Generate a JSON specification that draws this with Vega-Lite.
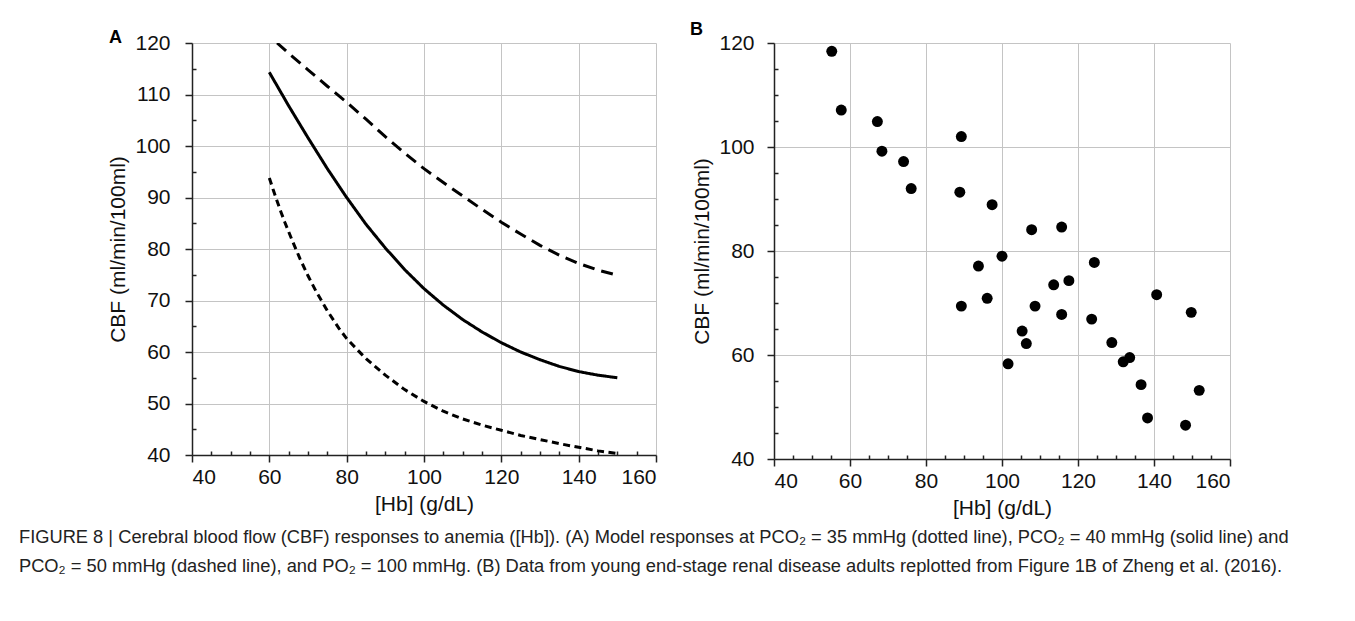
{
  "$schema": "https://vega.github.io/schema/vega-lite/v6.json",
  "autosize": {"type": "pad"},
  "padding": {"left": 18, "top": 21, "right": 5, "bottom": 5},
  "background": "white",
  "config": {
    "font": "Liberation Sans",
    "view": {"stroke": null},
    "axis": {
      "domainColor": "#222", "domainWidth": 1.5,
      "tickColor": "#222", "tickWidth": 1.5,
      "gridColor": "#c4c4c4", "gridWidth": 1,
      "labelFontSize": 21, "labelColor": "#111", "labelFont": "Liberation Sans",
      "titleFontSize": 21, "titleFontWeight": "normal", "titleColor": "#111", "titleFont": "Liberation Sans",
      "labelOverlap": false
    }
  },
  "title": {
    "text": [
      "FIGURE 8 | Cerebral blood flow (CBF) responses to anemia ([Hb]). (A) Model responses at PCO₂ = 35 mmHg (dotted line), PCO₂ = 40 mmHg (solid line) and",
      "PCO₂ = 50 mmHg (dashed line), and PO₂ = 100 mmHg. (B) Data from young end-stage renal disease adults replotted from Figure 1B of Zheng et al. (2016)."
    ],
    "orient": "bottom", "anchor": "start", "frame": "bounds",
    "fontSize": 18.3, "fontWeight": "normal", "lineHeight": 29, "offset": 11, "dx": -89, "color": "#222", "font": "Liberation Sans"
  },
  "datasets": {
    "curves": [
      {"hb": 60, "cbf": 93.8, "series": "35"},
      {"hb": 61, "cbf": 91.5, "series": "35"},
      {"hb": 62, "cbf": 89.3, "series": "35"},
      {"hb": 63, "cbf": 87.2, "series": "35"},
      {"hb": 64, "cbf": 85.2, "series": "35"},
      {"hb": 66, "cbf": 81.5, "series": "35"},
      {"hb": 68, "cbf": 78.0, "series": "35"},
      {"hb": 70, "cbf": 74.8, "series": "35"},
      {"hb": 72, "cbf": 71.9, "series": "35"},
      {"hb": 75, "cbf": 68.0, "series": "35"},
      {"hb": 78, "cbf": 64.6, "series": "35"},
      {"hb": 80, "cbf": 62.6, "series": "35"},
      {"hb": 85, "cbf": 58.7, "series": "35"},
      {"hb": 90, "cbf": 55.5, "series": "35"},
      {"hb": 95, "cbf": 52.7, "series": "35"},
      {"hb": 100, "cbf": 50.4, "series": "35"},
      {"hb": 105, "cbf": 48.5, "series": "35"},
      {"hb": 110, "cbf": 47.0, "series": "35"},
      {"hb": 115, "cbf": 45.8, "series": "35"},
      {"hb": 120, "cbf": 44.8, "series": "35"},
      {"hb": 125, "cbf": 43.8, "series": "35"},
      {"hb": 130, "cbf": 43.0, "series": "35"},
      {"hb": 135, "cbf": 42.2, "series": "35"},
      {"hb": 140, "cbf": 41.5, "series": "35"},
      {"hb": 145, "cbf": 40.8, "series": "35"},
      {"hb": 150, "cbf": 40.3, "series": "35"},
      {"hb": 60, "cbf": 114.3, "series": "40"},
      {"hb": 65, "cbf": 107.8, "series": "40"},
      {"hb": 70, "cbf": 101.6, "series": "40"},
      {"hb": 75, "cbf": 95.6, "series": "40"},
      {"hb": 80, "cbf": 90.0, "series": "40"},
      {"hb": 85, "cbf": 84.8, "series": "40"},
      {"hb": 90, "cbf": 80.2, "series": "40"},
      {"hb": 95, "cbf": 76.0, "series": "40"},
      {"hb": 100, "cbf": 72.3, "series": "40"},
      {"hb": 105, "cbf": 69.1, "series": "40"},
      {"hb": 110, "cbf": 66.3, "series": "40"},
      {"hb": 115, "cbf": 63.9, "series": "40"},
      {"hb": 120, "cbf": 61.8, "series": "40"},
      {"hb": 125, "cbf": 60.0, "series": "40"},
      {"hb": 130, "cbf": 58.5, "series": "40"},
      {"hb": 135, "cbf": 57.2, "series": "40"},
      {"hb": 140, "cbf": 56.2, "series": "40"},
      {"hb": 145, "cbf": 55.5, "series": "40"},
      {"hb": 150, "cbf": 55.0, "series": "40"},
      {"hb": 62, "cbf": 120.0, "series": "50"},
      {"hb": 65, "cbf": 118.0, "series": "50"},
      {"hb": 70, "cbf": 114.8, "series": "50"},
      {"hb": 75, "cbf": 111.6, "series": "50"},
      {"hb": 80, "cbf": 108.5, "series": "50"},
      {"hb": 85, "cbf": 105.2, "series": "50"},
      {"hb": 90, "cbf": 101.8, "series": "50"},
      {"hb": 95, "cbf": 98.6, "series": "50"},
      {"hb": 100, "cbf": 95.6, "series": "50"},
      {"hb": 105, "cbf": 92.9, "series": "50"},
      {"hb": 110, "cbf": 90.3, "series": "50"},
      {"hb": 115, "cbf": 87.7, "series": "50"},
      {"hb": 120, "cbf": 85.2, "series": "50"},
      {"hb": 125, "cbf": 82.9, "series": "50"},
      {"hb": 130, "cbf": 80.7, "series": "50"},
      {"hb": 135, "cbf": 78.8, "series": "50"},
      {"hb": 140, "cbf": 77.2, "series": "50"},
      {"hb": 145, "cbf": 75.9, "series": "50"},
      {"hb": 150, "cbf": 74.9, "series": "50"}
    ],
    "patients": [
      {"hb": 55.2, "cbf": 118.4}, {"hb": 57.7, "cbf": 107.1}, {"hb": 67.2, "cbf": 104.9},
      {"hb": 68.4, "cbf": 99.2}, {"hb": 74.1, "cbf": 97.2}, {"hb": 76.1, "cbf": 92.0},
      {"hb": 89.3, "cbf": 102.0}, {"hb": 88.9, "cbf": 91.3}, {"hb": 97.4, "cbf": 88.9},
      {"hb": 107.8, "cbf": 84.1}, {"hb": 115.7, "cbf": 84.6}, {"hb": 100.0, "cbf": 79.0},
      {"hb": 124.3, "cbf": 77.8}, {"hb": 93.8, "cbf": 77.1}, {"hb": 89.3, "cbf": 69.4},
      {"hb": 96.1, "cbf": 70.9}, {"hb": 108.7, "cbf": 69.4}, {"hb": 105.3, "cbf": 64.6},
      {"hb": 106.4, "cbf": 62.2}, {"hb": 101.6, "cbf": 58.3}, {"hb": 113.6, "cbf": 73.5},
      {"hb": 117.6, "cbf": 74.3}, {"hb": 115.7, "cbf": 67.8}, {"hb": 123.6, "cbf": 66.9},
      {"hb": 128.9, "cbf": 62.4}, {"hb": 131.9, "cbf": 58.7}, {"hb": 133.6, "cbf": 59.5},
      {"hb": 136.6, "cbf": 54.3}, {"hb": 138.3, "cbf": 47.9}, {"hb": 140.7, "cbf": 71.6},
      {"hb": 148.3, "cbf": 46.5}, {"hb": 149.8, "cbf": 68.2}, {"hb": 151.9, "cbf": 53.2}
    ]
  },
  "spacing": 33,
  "hconcat": [
    {
      "width": 464, "height": 412,
      "title": {"text": "A", "anchor": "start", "frame": "group", "dx": -83, "offset": -29, "fontSize": 18, "fontWeight": "bold", "baseline": "alphabetic", "color": "#000"},
      "data": {"name": "curves"},
      "mark": {"type": "line", "color": "black", "strokeWidth": 3, "clip": true},
      "encoding": {
        "x": {
          "field": "hb", "type": "quantitative",
          "scale": {"domain": [40, 160], "nice": false, "zero": false},
          "axis": {
            "title": "[Hb] (g/dL)",
            "values": [40,45,50,55,60,65,70,75,80,85,90,95,100,105,110,115,120,125,130,135,140,145,150,155,160],
            "labelExpr": "datum.value % 20 === 0 ? datum.label : ''",
            "tickSize": {"condition": {"test": "datum.value % 20 === 0", "value": 7}, "value": -4},
            "gridOpacity": {"condition": {"test": "datum.value % 20 === 0", "value": 1}, "value": 0},
            "labelPadding": 4, "titlePadding": 6
          }
        },
        "y": {
          "field": "cbf", "type": "quantitative",
          "scale": {"domain": [40, 120], "nice": false, "zero": false},
          "axis": {
            "title": "CBF (ml/min/100ml)",
            "values": [40,45,50,55,60,65,70,75,80,85,90,95,100,105,110,115,120],
            "labelExpr": "datum.value % 10 === 0 ? datum.label : ''",
            "tickSize": {"condition": {"test": "datum.value % 10 === 0", "value": 7}, "value": -4},
            "gridOpacity": {"condition": {"test": "datum.value % 10 === 0", "value": 1}, "value": 0},
            "labelPadding": 15, "titlePadding": 6
          }
        },
        "strokeDash": {
          "field": "series", "type": "nominal",
          "scale": {"domain": ["35", "40", "50"], "range": [[7, 4.5], [1, 0], [12, 7]]},
          "legend": null
        }
      }
    },
    {
      "width": 456, "height": 416,
      "title": {"text": "B", "anchor": "start", "frame": "group", "dx": -84, "offset": -21, "fontSize": 18, "fontWeight": "bold", "baseline": "alphabetic", "color": "#000"},
      "data": {"name": "patients"},
      "mark": {"type": "circle", "color": "black", "size": 120, "opacity": 1},
      "encoding": {
        "x": {
          "field": "hb", "type": "quantitative",
          "scale": {"domain": [40, 160], "nice": false, "zero": false},
          "axis": {
            "title": "[Hb] (g/dL)",
            "values": [40,45,50,55,60,65,70,75,80,85,90,95,100,105,110,115,120,125,130,135,140,145,150,155,160],
            "labelExpr": "datum.value % 20 === 0 ? datum.label : ''",
            "tickSize": {"condition": {"test": "datum.value % 20 === 0", "value": 7}, "value": -4},
            "gridOpacity": {"condition": {"test": "datum.value % 20 === 0", "value": 1}, "value": 0},
            "labelPadding": 4, "titlePadding": 6
          }
        },
        "y": {
          "field": "cbf", "type": "quantitative",
          "scale": {"domain": [40, 120], "nice": false, "zero": false},
          "axis": {
            "title": "CBF (ml/min/100ml)",
            "values": [40,45,50,55,60,65,70,75,80,85,90,95,100,105,110,115,120],
            "labelExpr": "datum.value % 20 === 0 ? datum.label : ''",
            "tickSize": {"condition": {"test": "datum.value % 20 === 0", "value": 7}, "value": -4},
            "gridOpacity": {"condition": {"test": "datum.value % 20 === 0", "value": 1}, "value": 0},
            "labelPadding": 13, "titlePadding": 6
          }
        }
      }
    }
  ]
}
